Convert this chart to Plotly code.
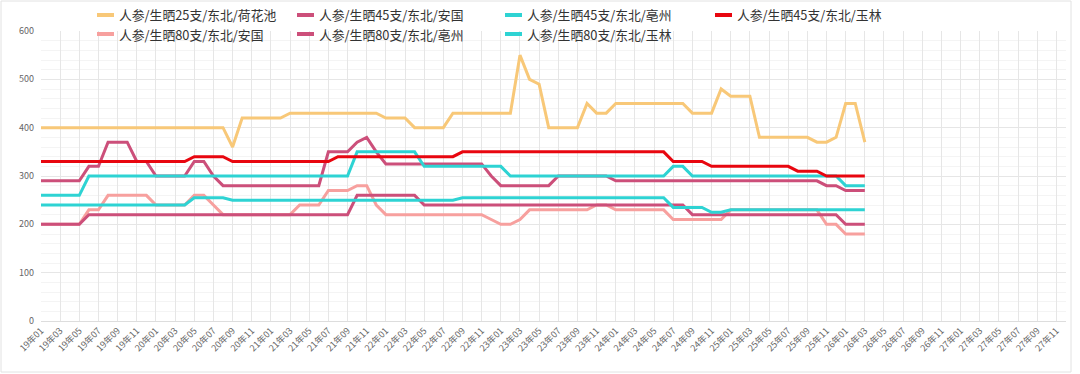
import plotly.graph_objects as go

# ---- categories: 19年01 .. 27年12 ----
months = [f"{y:02d}年{m:02d}" for y in range(19, 28) for m in range(1, 13)]

names = [
    "人参/生晒25支/东北/荷花池",
    "人参/生晒45支/东北/安国",
    "人参/生晒45支/东北/亳州",
    "人参/生晒45支/东北/玉林",
    "人参/生晒80支/东北/安国",
    "人参/生晒80支/东北/亳州",
    "人参/生晒80支/东北/玉林",
]

hehuachi_25 = ([400] * 20 + [360] + [420] * 5 + [430] * 10 + [420] * 3 + [400] * 4 + [430] * 7
               + [550, 500, 490] + [400] * 4 + [450] + [430] * 2 + [450] * 8 + [430] * 3 + [480]
               + [465] * 3 + [380] * 6 + [370] * 2 + [380] + [450] * 2 + [370])
anguo_45 = ([290] * 5 + [320] * 2 + [370] * 3 + [330] * 2 + [300] * 4 + [330] * 2 + [300]
            + [280] * 11 + [350] * 3 + [370, 380, 350] + [325] * 11 + [300] + [280] * 6
            + [300] * 6 + [290] * 22 + [280] * 2 + [270] * 3)
bozhou_45 = ([260] * 5 + [300] * 28 + [350] * 7 + [320] * 9 + [300] * 17 + [320] * 2
             + [300] * 16 + [280] * 3)
yulin_45 = ([330] * 16 + [340] * 4 + [330] * 11 + [340] * 13 + [350] * 22 + [330] * 4
            + [320] * 9 + [310] * 3 + [300] * 5)
anguo_80 = ([200] * 5 + [230] * 2 + [260] * 5 + [240] * 4 + [260] * 2 + [240] + [220] * 8
            + [240] * 3 + [270] * 3 + [280] * 2 + [240] + [220] * 11 + [210] + [200] * 2 + [210]
            + [230] * 7 + [240] * 2 + [230] * 6 + [210] * 6 + [230] * 10 + [200] * 2 + [180] * 3)
bozhou_80 = [200] * 5 + [220] * 28 + [260] * 7 + [240] * 28 + [220] * 16 + [200] * 3
yulin_80 = ([240] * 16 + [255] * 4 + [250] * 24 + [255] * 22 + [235] * 4 + [225] * 2
            + [230] * 15)

series = [hehuachi_25, anguo_45, bozhou_45, yulin_45, anguo_80, bozhou_80, yulin_80]
colors = ["#F8C878", "#CC4F7A", "#2ED3D3", "#E8060F", "#F7A09E", "#CC4F7A", "#2ED3D3"]

y_ticks = [0, 100, 200, 300, 400, 500, 600]

W, H = 1080, 374
L, R, T, B = 41, 14, 31, 53
pw, ph = W - L - R, H - T - B

def px_x(x):
    return (x - L) / pw

def px_y(y):
    return (H - B - y) / ph

fig = go.Figure()
for name, vals, col in zip(names, series, colors):
    fig.add_trace(go.Scatter(
        x=months[:len(vals)], y=vals, name=name, mode="lines",
        line=dict(color=col, width=3, shape="linear"),
        hoverinfo="skip", showlegend=False,
    ))

# legend (two rows, drawn as line swatches + text)
entry_x = [97, 297, 505, 715, 97, 297, 505]
entry_y = [15, 15, 15, 15, 34, 34, 34]
for name, col, ex, ey in zip(names, colors, entry_x, entry_y):
    fig.add_shape(type="line", xref="paper", yref="paper",
                  x0=px_x(ex), x1=px_x(ex + 17), y0=px_y(ey), y1=px_y(ey),
                  line=dict(color=col, width=4))
    fig.add_annotation(xref="paper", yref="paper", x=px_x(ex + 21), y=px_y(ey),
                       xanchor="left", yanchor="middle", showarrow=False,
                       text=name, borderpad=0,
                       font=dict(family="Noto Sans CJK SC", size=12.8, color="#333333"))

fig.update_layout(
    width=W, height=H,
    margin=dict(l=L, r=R, t=T, b=B, pad=0, autoexpand=False),
    paper_bgcolor="white", plot_bgcolor="white",
    font=dict(family="Noto Sans CJK SC", color="#666666"),
    xaxis=dict(
        type="category", categoryorder="array", categoryarray=months,
        range=[0, len(months) - 1],
        tickmode="array", tickvals=months[::2], ticktext=months[::2],
        tickangle=-45, tickfont=dict(size=9, color="#666666"),
        showgrid=True, gridcolor="#E6E6E6", gridwidth=1,
        showline=True, linecolor="#DDDDDD", linewidth=1,
        ticks="", zeroline=False, fixedrange=True, automargin=False,
    ),
    yaxis=dict(
        range=[0, 600], tickmode="array", tickvals=y_ticks,
        tickfont=dict(size=9, color="#666666"),
        showgrid=True, gridcolor="#E6E6E6", gridwidth=1,
        minor=dict(dtick=20, showgrid=True, gridcolor="#F4F4F4", gridwidth=1),
        showline=False, zeroline=False, ticks="", ticklabelstandoff=6,
        fixedrange=True, automargin=False,
    ),
    showlegend=False,
)

# outer card border
fig.add_shape(type="rect", xref="paper", yref="paper",
              x0=px_x(1), x1=px_x(1071), y0=px_y(372), y1=px_y(1),
              line=dict(color="#E2E2E2", width=1), fillcolor="rgba(0,0,0,0)", layer="below")

fig.write_html("out.html", config={"displayModeBar": False},
               post_script="document.body.style.margin='0px';")
